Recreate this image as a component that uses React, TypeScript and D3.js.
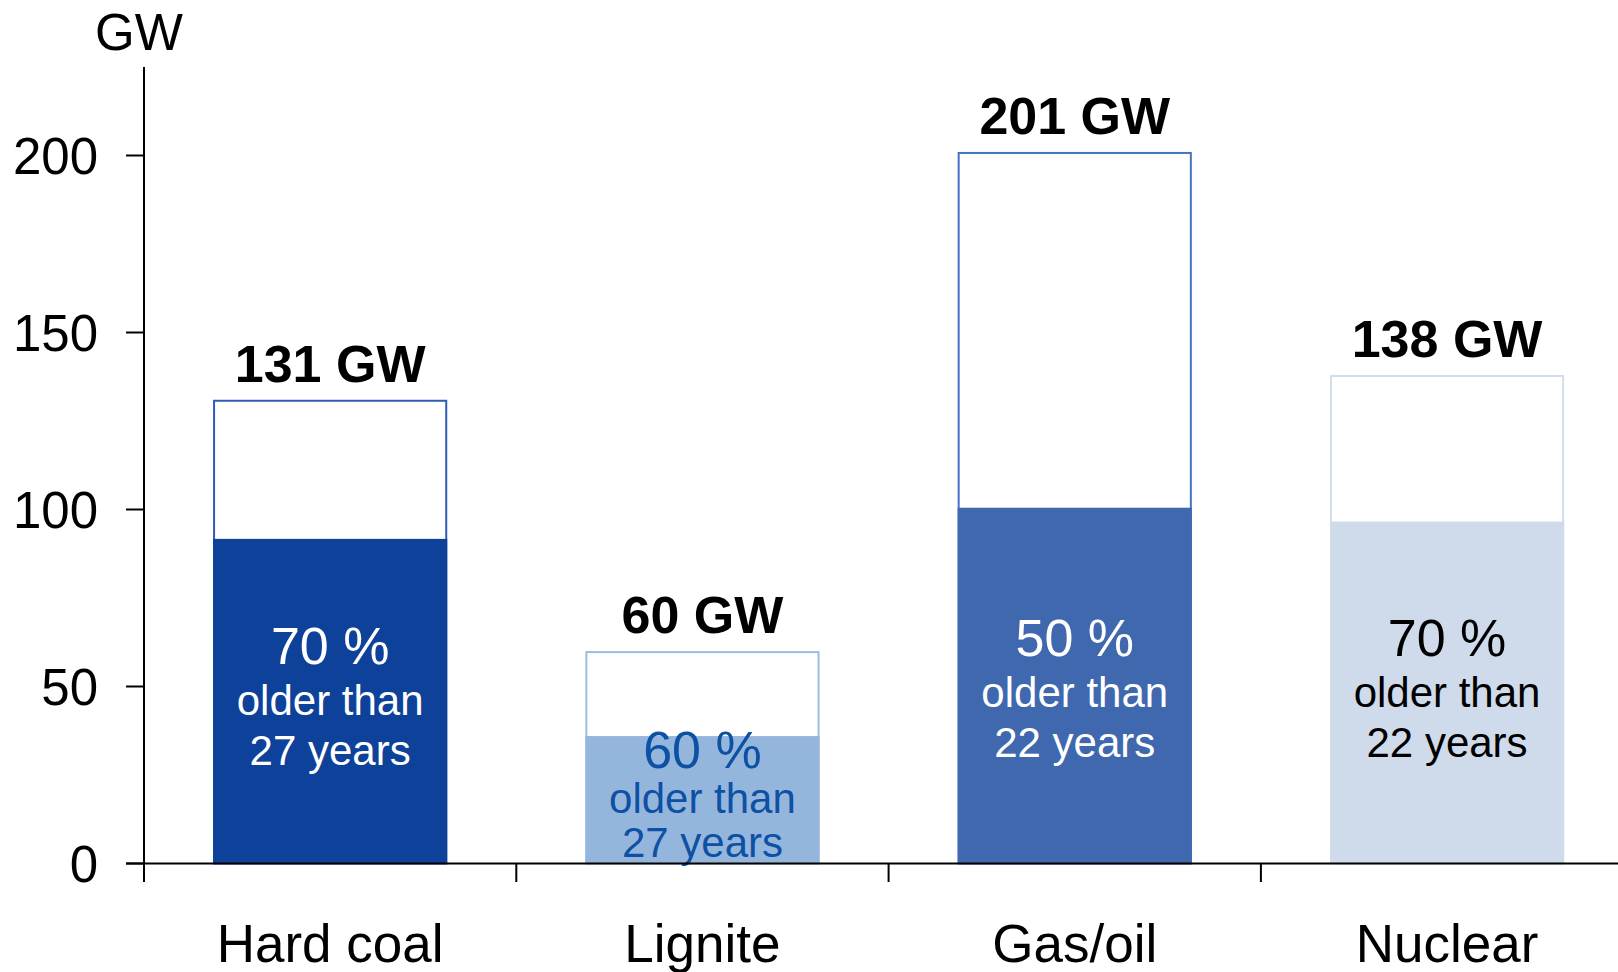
import React from "react";
import * as d3 from "d3";

// Installed capacity by technology (GW) and the share of old plants
const categories = ["Hard coal", "Lignite", "Gas/oil", "Nuclear"];
const totalGW = [131, 60, 201, 138];
const oldShare = [70, 60, 50, 70];
const ageYears = [27, 27, 22, 22];
const yTicks = [0, 50, 100, 150, 200];

const fillColors = ["#0E4199", "#95B6DC", "#3F68AF", "#CFDAEB"];
const edgeColors = ["#2F5DB3", "#9DBCE1", "#4472C4", "#D2DDEE"];
const noteColors = ["#FFFFFF", "#0D51A4", "#FFFFFF", "#000000"];

const W = 1618;
const H = 972;
const FONT = "'Liberation Sans', Arial, Helvetica, sans-serif";

export default function App() {
  const axisX = 144;
  const step = 372.3;
  const x = d3
    .scaleBand<string>()
    .domain(categories)
    .range([axisX, axisX + step * categories.length])
    .padding(0);
  const y = d3.scaleLinear().domain([0, 200]).range([863.5, 155.5]);
  const barW = x.bandwidth() * 0.629;
  const base = y(0);

  return (
    <svg
      width={W}
      height={H}
      style={{ position: "absolute", left: 0, top: 0, background: "#fff" }}
      fontFamily={FONT}
    >
      {/* bars: outlined total with the filled old-plant share */}
      {categories.map((c, i) => {
        const cx = (x(c) as number) + x.bandwidth() / 2;
        const x0 = cx - barW / 2;
        const oldGW = (totalGW[i] * oldShare[i]) / 100;
        const yTop = y(totalGW[i]);
        const yOld = y(oldGW);
        const segH = base - yOld;
        // tighter line spacing when the filled part is short
        const gap = segH < 150 ? 45 : 51;
        // the note sits in the middle of the filled part, no higher than 48 GW
        const blockCenter = y(Math.min(oldGW / 2, 48));
        const first = blockCenter - (gap - 13.5);
        return (
          <g key={c}>
            <rect
              x={x0 + 1}
              y={yTop + 1}
              width={barW - 2}
              height={base - yTop - 1}
              fill="#fff"
              stroke={edgeColors[i]}
              strokeWidth={2}
            />
            <rect x={x0} y={yOld} width={barW} height={segH} fill={fillColors[i]} />
            <text
              x={cx}
              y={yTop - 18}
              textAnchor="middle"
              fontSize={52}
              fontWeight="bold"
              fill="#000"
            >
              {`${totalGW[i]} GW`}
            </text>
            <g fill={noteColors[i]} textAnchor="middle">
              <text x={cx} y={first} fontSize={52}>
                {`${oldShare[i]} %`}
              </text>
              <text x={cx} y={first + gap} fontSize={42}>
                older than
              </text>
              <text x={cx} y={first + gap * 2 - 1} fontSize={42}>
                {`${ageYears[i]} years`}
              </text>
            </g>
          </g>
        );
      })}

      {/* y axis */}
      <line x1={axisX} x2={axisX} y1={67} y2={882} stroke="#000" strokeWidth={2} />
      {yTicks.map((t) => (
        <g key={t}>
          <line x1={126} x2={axisX} y1={y(t)} y2={y(t)} stroke="#000" strokeWidth={2} />
          <text
            x={98}
            y={y(t)}
            dy="0.36em"
            textAnchor="end"
            fontSize={51}
            fill="#000"
          >
            {t}
          </text>
        </g>
      ))}
      <text x={139} y={50} textAnchor="middle" fontSize={51} fill="#000">
        GW
      </text>

      {/* x axis */}
      <line x1={126} x2={W} y1={base} y2={base} stroke="#000" strokeWidth={2} />
      {categories.slice(1).map((c) => (
        <line
          key={c}
          x1={x(c) as number}
          x2={x(c) as number}
          y1={base}
          y2={882}
          stroke="#000"
          strokeWidth={2}
        />
      ))}
      {categories.map((c) => (
        <text
          key={c}
          x={(x(c) as number) + x.bandwidth() / 2}
          y={962}
          textAnchor="middle"
          fontSize={53}
          fill="#000"
        >
          {c}
        </text>
      ))}
    </svg>
  );
}
